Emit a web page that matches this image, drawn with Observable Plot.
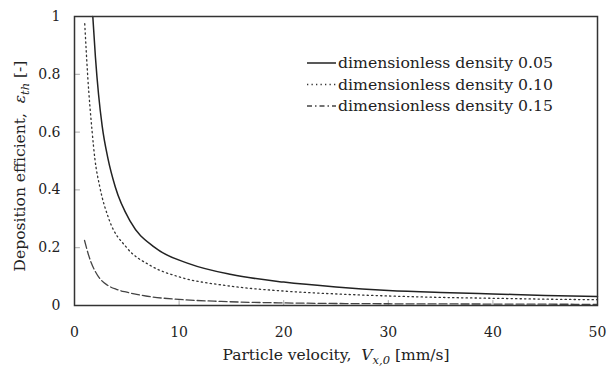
<!DOCTYPE html>
<html>
<head>
<meta charset="utf-8">
<script src="https://cdn.jsdelivr.net/npm/d3@7"></script>
<script src="https://cdn.jsdelivr.net/npm/@observablehq/plot@0.6"></script>
<style>
  html, body { margin: 0; padding: 0; background: #fff; }
  #chart svg { display: block; }
</style>
</head>
<body>
<div id="chart"></div>
<script>
// Series: dimensionless density 0.05 (solid)
const v005 = [1.75, 2.0, 2.3, 2.65, 3.19, 3.9, 5.35, 7.7, 11, 15, 20, 25, 30, 35, 40, 45, 50];
const e005 = [1.0, 0.86, 0.73, 0.62, 0.51, 0.41, 0.29, 0.2, 0.144, 0.107, 0.081, 0.064, 0.052, 0.045, 0.04, 0.035, 0.031];
// Series: dimensionless density 0.10 (dotted)
const v010 = [0.98, 1.27, 1.69, 1.94, 2.42, 3.28, 5.0, 7.27, 10.1, 14.5, 20, 25, 30, 35, 40, 45, 50];
const e010 = [0.975, 0.79, 0.6, 0.51, 0.41, 0.3, 0.2, 0.138, 0.098, 0.069, 0.05, 0.04, 0.033, 0.028, 0.025, 0.022, 0.02];
// Series: dimensionless density 0.15 (dashed)
const v015 = [0.96, 1.3, 1.6, 2.0, 2.5, 3.12, 4.0, 5.0, 6.95, 10, 14, 20, 25, 30, 40, 50];
const e015 = [0.225, 0.18, 0.148, 0.117, 0.09, 0.071, 0.056, 0.046, 0.032, 0.021, 0.014, 0.009, 0.007, 0.006, 0.005, 0.004];

const seriesNames = ["dimensionless density 0.05", "dimensionless density 0.10", "dimensionless density 0.15"];
const xTicks = [0, 10, 20, 30, 40, 50];
const yTicks = [0, 0.2, 0.4, 0.6, 0.8, 1];

const toRows = (vs, es) => vs.map((v, i) => ({v, e: es[i]}));
const s1 = toRows(v005, e005);
const s2 = toRows(v010, e010);
const s3 = toRows(v015, e015);

const font = "DejaVu Serif, Liberation Serif, serif";
const ink = "#222";

// short tick shape drawn from the anchor point
const tickShape = {draw(ctx, l) { ctx.moveTo(0, 0); ctx.lineTo(0, -l); }};

const chart = Plot.plot({
  width: 610,
  height: 369,
  marginLeft: 74,
  marginRight: 13,
  marginTop: 16,
  marginBottom: 64,
  style: {fontFamily: font, fontSize: "14px", color: ink, background: "#fff"},
  x: {domain: [0, 50], label: null},
  y: {domain: [0, 1], label: null},
  marks: [
    Plot.axisX({ticks: xTicks, tickSize: 0, tickPadding: 22, label: null, fontSize: 14, fontFamily: font}),
    Plot.axisY({ticks: yTicks, tickSize: 0, tickPadding: 14, tickFormat: d => String(d), label: null, fontSize: 14, fontFamily: font}),
    // inward ticks
    Plot.vector(xTicks, {x: d => d, y: 0, length: 5, anchor: "start", shape: tickShape, stroke: "#aaa", strokeWidth: 1}),
    Plot.vector(yTicks, {x: 0, y: d => d, length: 5, rotate: 90, anchor: "start", shape: tickShape, stroke: "#aaa", strokeWidth: 1}),
    Plot.line(s1, {x: "v", y: "e", stroke: "#222", strokeWidth: 1.5, curve: "monotone-x"}),
    Plot.line(s2, {x: "v", y: "e", stroke: "#333", strokeWidth: 1.3, strokeDasharray: "1.3,3.2", curve: "monotone-x"}),
    Plot.line(s3, {x: "v", y: "e", stroke: "#444", strokeWidth: 1.3, strokeDasharray: "8,3", curve: "monotone-x"}),
    Plot.frame({stroke: "#333", strokeWidth: 1.5})
  ]
});

const svg = d3.select(chart);

// Axis titles with italic symbols and subscripts
const xt = svg.append("text")
  .attr("x", 336).attr("y", 360)
  .attr("text-anchor", "middle")
  .attr("font-family", font).attr("font-size", 15.5).attr("fill", ink);
xt.append("tspan").text("Particle velocity,  ");
xt.append("tspan").attr("font-style", "italic").text("V");
xt.append("tspan").attr("font-style", "italic").attr("font-size", 11.5).attr("dy", 4).text("x,0");
xt.append("tspan").attr("dy", -4).text(" [mm/s]");

const yt = svg.append("text")
  .attr("transform", "translate(25,166) rotate(-90)")
  .attr("text-anchor", "middle")
  .attr("font-family", font).attr("font-size", 15.5).attr("fill", ink);
yt.append("tspan").text("Deposition efficient,  ");
yt.append("tspan").attr("font-style", "italic").text("ε");
yt.append("tspan").attr("font-style", "italic").attr("font-size", 11.5).attr("dy", 4).text("th");
yt.append("tspan").attr("dy", -4).text(" [-]");

// Legend
const legendStyles = [
  {stroke: "#222", width: 1.5, dash: null},
  {stroke: "#333", width: 1.3, dash: "1.3,3.2"},
  {stroke: "#444", width: 1.3, dash: "5,3,1.5,3"}
];
const lg = svg.append("g");
seriesNames.forEach((name, i) => {
  const y = 63 + i * 21.5;
  const st = legendStyles[i];
  const ln = lg.append("line")
    .attr("x1", 307).attr("x2", 336).attr("y1", y).attr("y2", y)
    .attr("stroke", st.stroke).attr("stroke-width", st.width);
  if (st.dash) ln.attr("stroke-dasharray", st.dash);
  lg.append("text")
    .attr("x", 338).attr("y", y).attr("dy", "0.35em")
    .attr("text-anchor", "start")
    .attr("font-family", font).attr("font-size", 15.7).attr("fill", ink)
    .text(name);
});

document.getElementById("chart").appendChild(chart);
</script>
</body>
</html>
